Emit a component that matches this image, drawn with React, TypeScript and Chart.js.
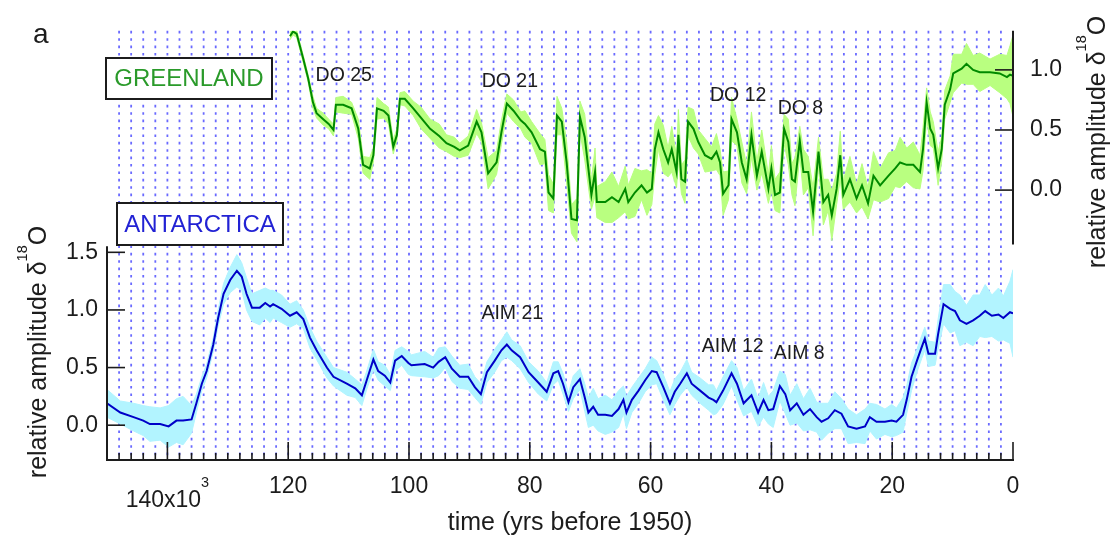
import React, { useEffect, useRef } from 'react';
import { Chart, registerables } from 'chart.js';

Chart.register(...registerables);

const FONT = "'Liberation Sans', Arial, Helvetica, sans-serif";

// ---------- Greenland (kyr before 1950, relative amplitude) ----------
const greenlandAge = [
  119.7, 119.2, 118.6, 117.5, 116.7, 115.9, 115.3, 114.2, 113.3, 112.5,
  112.1, 110.9, 109.5, 108.4, 107.6, 106.5, 105.9, 105.3, 104.2, 103.4,
  102.6, 102.0, 101.5, 100.7, 99.3, 98.0, 96.5, 95.0, 93.8, 92.5,
  91.6, 90.2, 88.8, 88.0, 86.9, 85.5, 84.7, 83.8, 82.7, 81.5,
  80.8, 79.7, 78.3, 77.5, 76.9, 76.1, 75.5, 74.7, 73.9, 73.1,
  72.2, 71.7, 70.9, 69.8, 69.2, 68.9, 67.5, 66.4, 65.3, 64.2,
  63.7, 62.6, 61.5, 60.6, 59.8, 59.3, 58.7, 57.9, 57.1, 56.5,
  55.7, 55.4, 54.9, 54.3, 53.8, 52.9, 52.1, 51.0, 49.9, 49.1,
  48.5, 48.0, 47.1, 46.6, 45.7, 44.9, 44.1, 43.3, 42.4, 41.6,
  40.5, 40.0, 39.4, 38.6, 37.9, 37.2, 36.6, 36.1, 35.3, 34.7,
  33.9, 33.1, 32.2, 31.4, 30.6, 30.0, 29.2, 28.6, 28.1, 27.0,
  25.9, 25.0, 24.0, 23.1, 22.0, 20.6, 19.5, 18.7, 17.6, 16.5,
  15.4, 14.9, 14.3, 13.7, 13.2, 12.4, 11.8, 11.3, 10.4, 9.9,
  8.5, 7.7, 6.6, 5.5, 3.8, 2.2, 1.0, 0.5, 0.0,
];
const greenlandValue = [
  1.28, 1.32, 1.30, 1.09, 0.93, 0.73, 0.64, 0.59, 0.55, 0.50,
  0.71, 0.71, 0.68, 0.51, 0.21, 0.18, 0.29, 0.68, 0.66, 0.62,
  0.36, 0.46, 0.76, 0.76, 0.68, 0.60, 0.51, 0.45, 0.39, 0.36,
  0.33, 0.37, 0.57, 0.48, 0.14, 0.23, 0.48, 0.72, 0.66, 0.58,
  0.55, 0.48, 0.34, 0.32, -0.02, -0.07, 0.62, 0.57, 0.23, -0.24,
  -0.25, 0.61, 0.44, -0.04, 0.15, -0.10, -0.10, -0.06, -0.10, 0.01,
  -0.10, -0.02, 0.04, -0.02, 0.01, 0.34, 0.48, 0.34, 0.23, 0.34,
  0.15, 0.46, 0.09, 0.07, 0.57, 0.51, 0.40, 0.29, 0.26, 0.32,
  0.23, -0.03, 0.04, 0.59, 0.48, 0.23, 0.09, 0.46, 0.12, 0.32,
  0.01, 0.18, -0.04, -0.02, 0.51, 0.40, 0.09, 0.07, 0.41, 0.15,
  0.15, -0.18, 0.32, -0.10, -0.04, -0.21, 0.01, 0.29, -0.04, 0.09,
  -0.07, 0.04, -0.11, 0.12, 0.04, 0.12, 0.18, 0.23, 0.21, 0.21,
  0.15, 0.34, 0.73, 0.51, 0.46, 0.18, 0.34, 0.71, 0.84, 0.97,
  1.01, 1.05, 1.00, 0.98, 0.98, 0.97, 0.94, 0.96, 0.95,
];
const greenlandSpread = [
  0.03, 0.03, 0.03, 0.03, 0.03, 0.05, 0.04, 0.05, 0.04, 0.05,
  0.06, 0.07, 0.05, 0.08, 0.07, 0.09, 0.06, 0.09, 0.06, 0.07,
  0.06, 0.05, 0.05, 0.06, 0.06, 0.09, 0.08, 0.10, 0.07, 0.08,
  0.06, 0.08, 0.10, 0.08, 0.13, 0.10, 0.10, 0.08, 0.09, 0.07,
  0.11, 0.09, 0.13, 0.10, 0.15, 0.12, 0.16, 0.11, 0.17, 0.12,
  0.18, 0.13, 0.19, 0.12, 0.20, 0.13, 0.17, 0.21, 0.13, 0.19,
  0.14, 0.20, 0.12, 0.19, 0.13, 0.21, 0.14, 0.20, 0.12, 0.19,
  0.13, 0.21, 0.12, 0.18, 0.12, 0.16, 0.10, 0.14, 0.10, 0.15,
  0.11, 0.18, 0.12, 0.18, 0.11, 0.17, 0.12, 0.19, 0.12, 0.18,
  0.12, 0.19, 0.13, 0.17, 0.12, 0.19, 0.13, 0.20, 0.12, 0.19,
  0.13, 0.20, 0.12, 0.19, 0.13, 0.21, 0.13, 0.20, 0.12, 0.19,
  0.12, 0.18, 0.13, 0.20, 0.14, 0.19, 0.15, 0.21, 0.14, 0.19,
  0.14, 0.18, 0.12, 0.14, 0.11, 0.14, 0.10, 0.12, 0.11, 0.16,
  0.12, 0.17, 0.12, 0.16, 0.11, 0.16, 0.18, 0.24, 0.34,
];

// ---------- Antarctica (kyr before 1950, relative amplitude) ----------
const antarcticaAge = [
  150.0, 147.8, 145.6, 144.0, 142.9, 141.2, 139.8, 138.5, 137.4, 136.0,
  135.2, 134.3, 133.5, 132.4, 131.6, 130.7, 129.6, 128.5, 127.7, 126.9,
  126.0, 124.7, 123.8, 123.0, 122.5, 121.1, 119.7, 118.6, 117.5, 116.4,
  115.3, 113.6, 112.5, 110.3, 108.9, 107.8, 107.0, 105.9, 105.1, 104.0,
  103.1, 102.3, 101.2, 100.1, 99.6, 97.4, 96.0, 95.1, 94.0, 92.9,
  91.6, 90.2, 89.1, 88.1, 87.1, 85.8, 84.7, 83.8, 83.0, 81.6,
  80.2, 78.6, 77.2, 76.1, 75.3, 74.5, 73.6, 72.8, 71.7, 70.9,
  70.3, 69.5, 68.7, 67.5, 66.4, 65.3, 64.5, 64.0, 63.1, 62.0,
  60.9, 59.8, 59.0, 57.9, 56.8, 56.0, 55.1, 54.0, 53.2, 51.8,
  50.4, 49.6, 49.1, 48.0, 46.6, 45.7, 44.6, 43.3, 42.2, 41.3,
  40.5, 39.7, 38.6, 37.7, 36.9, 35.8, 34.7, 33.6, 32.5, 31.7,
  30.6, 29.5, 28.4, 27.3, 25.9, 24.5, 23.7, 22.6, 21.2, 20.1,
  19.3, 18.2, 17.6, 16.8, 15.9, 15.1, 14.6, 14.0, 12.9, 12.4,
  11.5, 10.4, 9.6, 8.8, 7.7, 6.6, 5.5, 4.6, 3.5, 2.4,
  1.6, 0.5, 0.0,
];
const antarcticaValue = [
  0.19, 0.11, 0.07, 0.04, 0.01, 0.01, -0.01, 0.04, 0.04, 0.05,
  0.19, 0.36, 0.47, 0.70, 0.93, 1.14, 1.26, 1.34, 1.29, 1.14,
  1.02, 1.02, 1.06, 1.03, 1.05, 1.01, 0.95, 0.98, 0.92, 0.76,
  0.65, 0.50, 0.42, 0.36, 0.32, 0.26, 0.39, 0.57, 0.47, 0.43,
  0.37, 0.56, 0.60, 0.54, 0.52, 0.53, 0.50, 0.55, 0.59, 0.49,
  0.42, 0.42, 0.33, 0.27, 0.46, 0.56, 0.65, 0.70, 0.65, 0.59,
  0.46, 0.37, 0.29, 0.45, 0.47, 0.36, 0.20, 0.33, 0.40, 0.24,
  0.11, 0.16, 0.09, 0.09, 0.08, 0.14, 0.22, 0.11, 0.22, 0.30,
  0.39, 0.47, 0.46, 0.33, 0.19, 0.29, 0.36, 0.45, 0.36, 0.30,
  0.24, 0.22, 0.20, 0.30, 0.45, 0.36, 0.19, 0.26, 0.11, 0.22,
  0.13, 0.14, 0.34, 0.27, 0.13, 0.19, 0.09, 0.14, 0.07, 0.03,
  0.06, 0.13, 0.10, -0.01, -0.03, -0.01, 0.07, 0.03, 0.03, 0.04,
  0.03, 0.09, 0.22, 0.42, 0.56, 0.68, 0.75, 0.62, 0.62, 0.79,
  1.05, 1.01, 0.99, 0.91, 0.88, 0.91, 0.95, 0.99, 0.95, 0.96,
  0.93, 0.98, 0.97,
];
const antarcticaSpread = [
  0.12, 0.10, 0.12, 0.13, 0.15, 0.14, 0.18, 0.19, 0.21, 0.12,
  0.08, 0.06, 0.06, 0.06, 0.07, 0.09, 0.11, 0.14, 0.12, 0.14,
  0.12, 0.15, 0.13, 0.14, 0.12, 0.12, 0.10, 0.10, 0.08, 0.09,
  0.08, 0.09, 0.08, 0.10, 0.08, 0.09, 0.08, 0.09, 0.08, 0.09,
  0.07, 0.09, 0.08, 0.10, 0.09, 0.11, 0.09, 0.12, 0.09, 0.11,
  0.10, 0.11, 0.09, 0.09, 0.09, 0.10, 0.09, 0.11, 0.09, 0.10,
  0.09, 0.10, 0.08, 0.10, 0.08, 0.09, 0.08, 0.10, 0.09, 0.12,
  0.13, 0.16, 0.14, 0.17, 0.14, 0.16, 0.12, 0.14, 0.11, 0.11,
  0.10, 0.12, 0.10, 0.11, 0.10, 0.11, 0.10, 0.12, 0.10, 0.11,
  0.11, 0.13, 0.10, 0.12, 0.11, 0.14, 0.11, 0.14, 0.12, 0.15,
  0.12, 0.16, 0.13, 0.17, 0.13, 0.17, 0.14, 0.18, 0.13, 0.16,
  0.13, 0.16, 0.13, 0.15, 0.12, 0.15, 0.12, 0.15, 0.11, 0.14,
  0.12, 0.15, 0.12, 0.12, 0.10, 0.10, 0.10, 0.11, 0.10, 0.13,
  0.17, 0.21, 0.17, 0.22, 0.16, 0.22, 0.18, 0.23, 0.18, 0.23,
  0.19, 0.27, 0.38,
];

// ---------- axes / labels ----------
const ageMin = 0;
const ageMax = 150;
const ageMinorStep = 2;
const ageMajorStep = 20;
const antarcticaTicks = [0, 0.5, 1.0, 1.5];
const greenlandTicks = [0, 0.5, 1.0];
const antarcticaRange = [-0.302, 3.422];
const greenlandRange = [-2.245, 1.325];
const antarcticaAxisTop = 1.552;
const greenlandAxisBottom = -0.452;

const eventText = ['DO 25', 'DO 21', 'DO 12', 'DO 8', 'AIM 21', 'AIM 12', 'AIM 8'];
const eventAge = [110.8, 83.3, 45.5, 35.2, 82.9, 46.4, 35.4];
const eventLevel = [0.95, 0.906, 0.788, 0.678, 0.97, 0.685, 0.625];
const eventAxis = ['yG', 'yG', 'yG', 'yG', 'yA', 'yA', 'yA'];

const G_LINE = '#008a00';
const G_BAND = '#b9ff80';
const A_LINE = '#0000c8';
const A_BAND = '#b2f4ff';
const GRID = '#6a6aff';
const INK = '#1c1c1c';

const pts = (xs: number[], ys: number[]) => xs.map((x, i) => ({ x, y: ys[i] }));
const band = (xs: number[], ys: number[], sp: number[], sign: number) =>
  xs.map((x, i) => ({ x, y: ys[i] + sign * sp[i] }));

function drawSuperText(
  ctx: CanvasRenderingContext2D,
  parts: { t: string; sup?: boolean }[],
  size: number,
  supSize: number,
  raise: number,
  cx: number,
  baseline: number,
) {
  const widths = parts.map((p) => {
    ctx.font = `${p.sup ? supSize : size}px ${FONT}`;
    return ctx.measureText(p.t).width;
  });
  const total = widths.reduce((a, b) => a + b, 0);
  let x = cx - total / 2;
  ctx.textAlign = 'left';
  ctx.textBaseline = 'alphabetic';
  parts.forEach((p, i) => {
    ctx.font = `${p.sup ? supSize : size}px ${FONT}`;
    ctx.fillText(p.t, x, p.sup ? baseline - raise : baseline);
    x += widths[i];
  });
}

const overlayPlugin = {
  id: 'overlayPlugin',
  beforeDatasetsDraw(chart: any) {
    const { ctx, chartArea } = chart;
    const xs = chart.scales.x;
    ctx.save();
    ctx.strokeStyle = GRID;
    ctx.lineWidth = 1.8;
    ctx.setLineDash([2.6, 4.8]);
    xs.ticks.forEach((tk: any) => {
      const v = Math.round(tk.value);
      if (v <= ageMin || v >= ageMax) return;
      const px = xs.getPixelForValue(v);
      ctx.beginPath();
      ctx.moveTo(px, chartArea.top);
      ctx.lineTo(px, chartArea.bottom);
      ctx.stroke();
    });
    ctx.restore();
  },
  afterDraw(chart: any) {
    const { ctx, chartArea } = chart;
    const { left, right, top, bottom } = chartArea;
    const xs = chart.scales.x;
    const yA = chart.scales.yA;
    const yG = chart.scales.yG;
    ctx.save();
    ctx.setLineDash([]);
    ctx.strokeStyle = INK;
    ctx.lineCap = 'butt';

    // bottom axis
    ctx.lineWidth = 2;
    ctx.beginPath();
    ctx.moveTo(left - 1, bottom);
    ctx.lineTo(right + 1, bottom);
    ctx.stroke();
    ctx.lineWidth = 1.6;
    xs.ticks.forEach((tk: any) => {
      const v = Math.round(tk.value);
      const px = xs.getPixelForValue(v);
      const len = v % ageMajorStep === 0 ? 18 : 7;
      ctx.beginPath();
      ctx.moveTo(px, bottom);
      ctx.lineTo(px, bottom - len);
      ctx.stroke();
    });

    // left (Antarctica) axis
    ctx.lineWidth = 2;
    ctx.beginPath();
    ctx.moveTo(left, yA.getPixelForValue(antarcticaAxisTop));
    ctx.lineTo(left, bottom);
    ctx.stroke();
    ctx.lineWidth = 1.6;
    antarcticaTicks.forEach((v) => {
      const py = yA.getPixelForValue(v);
      ctx.beginPath();
      ctx.moveTo(left, py);
      ctx.lineTo(left + 18, py);
      ctx.stroke();
    });

    // right (Greenland) axis
    ctx.lineWidth = 2;
    ctx.beginPath();
    ctx.moveTo(right, top);
    ctx.lineTo(right, yG.getPixelForValue(greenlandAxisBottom));
    ctx.stroke();
    ctx.lineWidth = 1.6;
    greenlandTicks.forEach((v) => {
      const py = yG.getPixelForValue(v);
      ctx.beginPath();
      ctx.moveTo(right, py);
      ctx.lineTo(right - 18, py);
      ctx.stroke();
    });

    ctx.fillStyle = INK;

    // 140x10^3 label
    drawSuperText(ctx, [{ t: '140x10' }, { t: '3', sup: true }], 23, 14.5, 20, xs.getPixelForValue(140), 507);

    // x title
    ctx.font = `25px ${FONT}`;
    ctx.textAlign = 'center';
    ctx.textBaseline = 'alphabetic';
    ctx.fillText('time (yrs before 1950)', 570, 529.5);

    // y titles (rotated)
    const titleParts = [{ t: 'relative amplitude \u03b4' }, { t: '18', sup: true }, { t: 'O' }];
    ctx.save();
    ctx.translate(46, 0);
    ctx.rotate(-Math.PI / 2);
    drawSuperText(ctx, titleParts, 25, 14.5, 19, -352, 0);
    ctx.restore();
    ctx.save();
    ctx.translate(1105, 0);
    ctx.rotate(-Math.PI / 2);
    drawSuperText(ctx, titleParts, 25, 14.5, 19, -142, 0);
    ctx.restore();

    // panel letter
    ctx.font = `28px ${FONT}`;
    ctx.textAlign = 'left';
    ctx.fillText('a', 33, 43);

    // event labels
    ctx.font = `19.5px ${FONT}`;
    ctx.textAlign = 'center';
    ctx.textBaseline = 'middle';
    eventText.forEach((txt, i) => {
      const sc = eventAxis[i] === 'yG' ? yG : yA;
      ctx.fillText(txt, xs.getPixelForValue(eventAge[i]), sc.getPixelForValue(eventLevel[i]));
    });

    // record boxes
    const boxes = [
      { t: 'GREENLAND', c: '#2a9a2a', x0: 106, y0: 58, x1: 272, y1: 99 },
      { t: 'ANTARCTICA', c: '#2222d4', x0: 117, y0: 203, x1: 283, y1: 245 },
    ];
    boxes.forEach((b) => {
      ctx.fillStyle = '#ffffff';
      ctx.fillRect(b.x0, b.y0, b.x1 - b.x0, b.y1 - b.y0);
      ctx.lineWidth = 2;
      ctx.strokeStyle = INK;
      ctx.strokeRect(b.x0, b.y0, b.x1 - b.x0, b.y1 - b.y0);
      ctx.fillStyle = b.c;
      ctx.font = `24px ${FONT}`;
      ctx.textAlign = 'center';
      ctx.textBaseline = 'middle';
      ctx.fillText(b.t, (b.x0 + b.x1) / 2, (b.y0 + b.y1) / 2 + 1);
    });
    ctx.restore();
  },
};

export default function App() {
  const ref = useRef<HTMLCanvasElement | null>(null);
  useEffect(() => {
    document.body.style.margin = '0';
    const canvas = ref.current;
    if (!canvas) return;
    const tickFont = { family: FONT, size: 23 };
    const chart = new Chart(canvas, {
      type: 'line',
      data: {
        datasets: [
          {
            label: 'Greenland upper',
            data: band(greenlandAge, greenlandValue, greenlandSpread, 1),
            yAxisID: 'yG',
            borderWidth: 1,
            borderColor: G_BAND,
            backgroundColor: G_BAND,
            pointRadius: 0,
            fill: '+1',
            order: 3,
          },
          {
            label: 'Greenland lower',
            data: band(greenlandAge, greenlandValue, greenlandSpread, -1),
            yAxisID: 'yG',
            borderWidth: 1,
            borderColor: G_BAND,
            pointRadius: 0,
            fill: false,
            order: 3,
          },
          {
            label: 'Greenland',
            data: pts(greenlandAge, greenlandValue),
            yAxisID: 'yG',
            borderWidth: 2,
            borderColor: G_LINE,
            pointRadius: 0,
            fill: false,
            order: 1,
          },
          {
            label: 'Antarctica upper',
            data: band(antarcticaAge, antarcticaValue, antarcticaSpread, 1),
            yAxisID: 'yA',
            borderWidth: 1,
            borderColor: A_BAND,
            backgroundColor: A_BAND,
            pointRadius: 0,
            fill: '+1',
            order: 3,
          },
          {
            label: 'Antarctica lower',
            data: band(antarcticaAge, antarcticaValue, antarcticaSpread, -1),
            yAxisID: 'yA',
            borderWidth: 1,
            borderColor: A_BAND,
            pointRadius: 0,
            fill: false,
            order: 3,
          },
          {
            label: 'Antarctica',
            data: pts(antarcticaAge, antarcticaValue),
            yAxisID: 'yA',
            borderWidth: 2,
            borderColor: A_LINE,
            pointRadius: 0,
            fill: false,
            order: 1,
          },
        ],
      },
      options: {
        animation: false,
        responsive: false,
        maintainAspectRatio: false,
        layout: { padding: { top: 28, left: 0, right: 0, bottom: 0 } },
        elements: { line: { tension: 0 } },
        plugins: { legend: { display: false }, tooltip: { enabled: false } },
        scales: {
          x: {
            type: 'linear',
            reverse: true,
            min: ageMin,
            max: ageMax,
            afterFit: (s: any) => {
              s.height = 75;
            },
            grid: { display: false, drawTicks: false },
            border: { display: false },
            ticks: {
              stepSize: ageMinorStep,
              autoSkip: false,
              maxRotation: 0,
              minRotation: 0,
              padding: 13,
              color: INK,
              font: tickFont,
              callback: (v: any) => {
                const n = Math.round(Number(v));
                return n % ageMajorStep === 0 && n !== 140 ? String(n) : '';
              },
            },
          },
          yA: {
            type: 'linear',
            position: 'left',
            min: antarcticaRange[0],
            max: antarcticaRange[1],
            afterBuildTicks: (s: any) => {
              s.ticks = antarcticaTicks.map((v) => ({ value: v }));
            },
            afterFit: (s: any) => {
              s.width = 107;
            },
            grid: { display: false, drawTicks: false },
            border: { display: false },
            ticks: {
              padding: 9,
              color: INK,
              font: tickFont,
              callback: (v: any) => Number(v).toFixed(1),
            },
          },
          yG: {
            type: 'linear',
            position: 'right',
            min: greenlandRange[0],
            max: greenlandRange[1],
            afterBuildTicks: (s: any) => {
              s.ticks = greenlandTicks.map((v) => ({ value: v }));
            },
            afterFit: (s: any) => {
              s.width = 97;
            },
            grid: { display: false, drawTicks: false },
            border: { display: false },
            ticks: {
              padding: 17,
              color: INK,
              font: tickFont,
              callback: (v: any) => Number(v).toFixed(1),
            },
          },
        },
      },
      plugins: [overlayPlugin],
    } as any);
    return () => chart.destroy();
  }, []);
  return (
    <div style={{ width: 1110, height: 535, background: '#ffffff' }}>
      <canvas ref={ref} width={1110} height={535} style={{ display: 'block' }} />
    </div>
  );
}
